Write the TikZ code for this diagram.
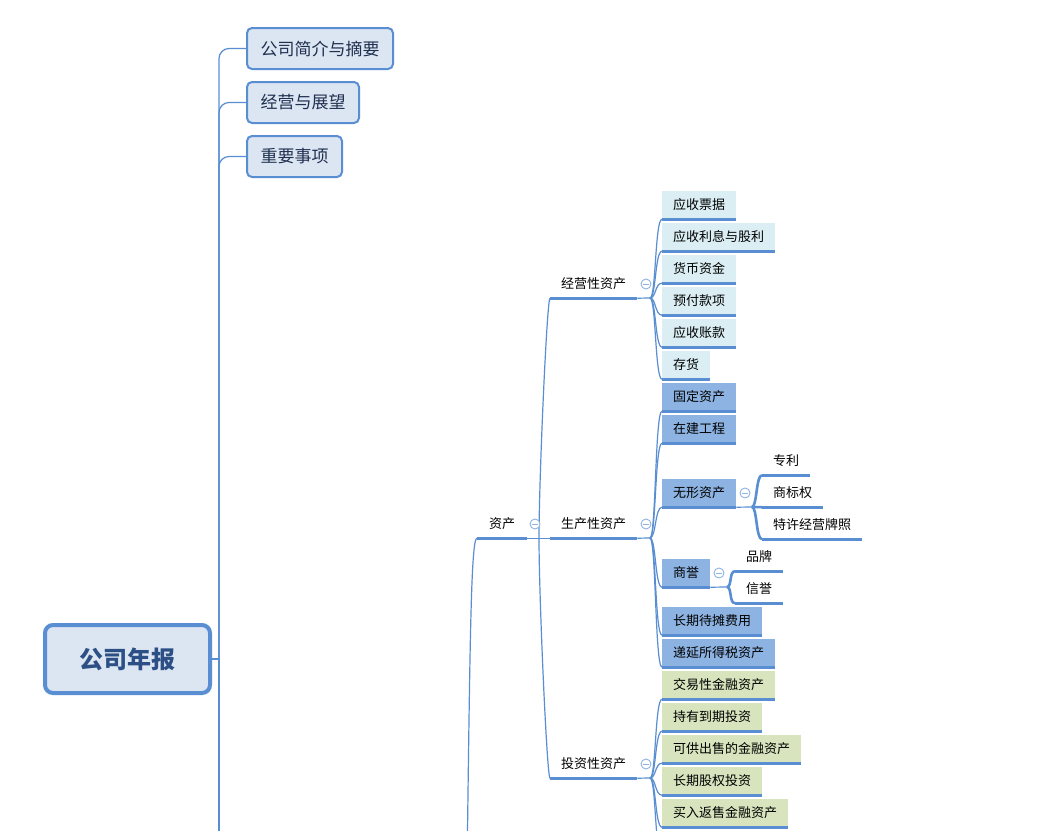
\documentclass[tikz,border=0pt]{standalone}
\usepackage{fontspec}
\newfontfamily\cjk{Noto Sans CJK SC}
\definecolor{lc}{HTML}{5A8ED3}
\definecolor{togc}{HTML}{8FB3E3}
\definecolor{topfill}{HTML}{DCE6F2}
\definecolor{aquafill}{HTML}{DAEEF3}
\definecolor{bluefill}{HTML}{8DB3E2}
\definecolor{greenfill}{HTML}{D7E4BD}
\definecolor{roott}{HTML}{2C5085}
\definecolor{topt}{HTML}{1F2F4F}
\tikzset{
  lnk/.style={draw=lc, line width=1.2pt},
  thk/.style={draw=lc, line width=2.6pt},
  topbox/.style={draw=lc, line width=2pt, fill=topfill, rounded corners=5pt,
    font=\cjk\fontsize{17}{17}\selectfont, text=topt, inner xsep=13.5pt,
    inner ysep=0pt, minimum height=41pt, anchor=west},
  rootbox/.style={draw=lc, line width=4pt, fill=topfill, rounded corners=8pt,
    minimum width=165pt, minimum height=68pt,
    font=\cjk\bfseries\fontsize{24}{24}\selectfont, text=roott},
  ul/.style={font=\cjk\fontsize{13}{13}\selectfont, inner xsep=11pt,
    inner ysep=0pt, minimum height=28pt, anchor=west, text=black},
  fa/.style={ul, fill=aquafill},
  fb/.style={ul, fill=bluefill},
  fc/.style={ul, fill=greenfill},
  tog/.style={circle, draw=togc, line width=0.9pt, fill=white, minimum size=10pt,
    inner sep=0pt, path picture={\draw[togc, line width=0.9pt]
      ([xshift=-2.6pt]path picture bounding box.center) --
      ([xshift=2.6pt]path picture bounding box.center);}}
}
\begin{document}
\begin{tikzpicture}[x=1pt,y=-1pt]
\useasboundingbox (0,0) rectangle (1049,830);
\clip (0,0) rectangle (1049,830);
\fill[white] (0,0) rectangle (1049,830);

% root and top boxes
\node[rootbox] (root) at (127.5,659) {公司年报};
\node[topbox] (t1) at (246,48.5) {公司简介与摘要};
\node[topbox] (t2) at (246,102.5) {经营与展望};
\node[topbox] (t3) at (246,156.5) {重要事项};
\coordinate (tr) at (219,659);
\coordinate (trb) at (219,850);

% level nodes
\node[ul, inner xsep=12pt] (zc) at (477,524) {资产};
\node[ul] (jy) at (550,284) {经营性资产};
\node[ul] (sc) at (550,524) {生产性资产};
\node[ul] (tz) at (550,764) {投资性资产};
\coordinate (zin) at (467,870);
\coordinate (zco) at (539,538);
\coordinate (jyo) at (650,298);
\coordinate (sco) at (650,538);
\coordinate (tzo) at (650,778);

% operating assets
\node[fa] (a1) at (662,205) {应收票据};
\node[fa] (a2) at (662,237) {应收利息与股利};
\node[fa] (a3) at (662,269) {货币资金};
\node[fa] (a4) at (662,301) {预付款项};
\node[fa] (a5) at (662,333) {应收账款};
\node[fa] (a6) at (662,365) {存货};

% production assets
\node[fb] (b1) at (662,397) {固定资产};
\node[fb] (b2) at (662,429) {在建工程};
\node[fb] (b3) at (662,493) {无形资产};
\node[fb] (b4) at (662,573) {商誉};
\node[fb] (b5) at (662,621) {长期待摊费用};
\node[fb] (b6) at (662,653) {递延所得税资产};
\coordinate (b3o) at (752,507);
\coordinate (b4o) at (727,587);

\node[ul] (d1) at (762,461) {专利};
\node[ul] (d2) at (762,493) {商标权};
\node[ul] (d3) at (762,525) {特许经营牌照};
\node[ul] (e1) at (735,557) {品牌};
\node[ul] (e2) at (735,589) {信誉};

% investment assets
\node[fc] (c1) at (662,685) {交易性金融资产};
\node[fc] (c2) at (662,717) {持有到期投资};
\node[fc] (c3) at (662,749) {可供出售的金融资产};
\node[fc] (c4) at (662,781) {长期股权投资};
\node[fc] (c5) at (662,813) {买入返售金融资产};
\coordinate (c6) at (662,859);

% underlines
\foreach \n in {zc,jy,sc,tz,a1,a2,a3,a4,a5,a6,b1,b2,b3,b4,b5,b6,c1,c2,c3,c4,c5,d1,d2,d3,e1,e2}
  \draw[draw=lc, line width=3pt] (\n.south west) -- (\n.south east);

% top-level connectors
\draw[lnk] (root.east) -- (tr) -- (trb);
\foreach \n in {t1,t2,t3}
  \draw[lnk, rounded corners=10pt] (tr) |- (\n.west);

% assets connectors
\draw[lnk] (zin) .. controls (470,640) and (471,538) .. (zc.south west);
\draw[lnk] (zc.south east) -- (sc.south west);
\draw[lnk] (zco) .. controls +(0,-60) and +(-3,0) .. (jy.south west);
\draw[lnk] (zco) .. controls +(0,60) and +(-3,0) .. (tz.south west);
\draw[lnk] (jy.south east) -- (jyo);
\draw[lnk] (sc.south east) -- (sco);
\draw[lnk] (tz.south east) -- (tzo);

\foreach \n in {a1,a2,a3,a4,a5,a6}
  \draw[lnk] (jyo) .. controls +(6,0) and +(-7,0) .. (\n.south west);
\foreach \n in {b1,b2,b3,b4,b5,b6}
  \draw[lnk] (sco) .. controls +(6,0) and +(-7,0) .. (\n.south west);
\foreach \n in {c1,c2,c3,c4,c5,c6}
  \draw[lnk] (tzo) .. controls +(6,0) and +(-7,0) .. (\n.south west);

\draw[lnk] (b3.south east) -- (b3o);
\draw[lnk] (b4.south east) -- (b4o);
\foreach \n in {d1,d2,d3}
  \draw[thk] (b3o) .. controls +(5,0) and +(-6,0) .. (\n.south west);
\foreach \n in {e1,e2}
  \draw[thk] (b4o) .. controls +(5,0) and +(-6,0) .. (\n.south west);

% collapse toggles
\node[tog] (g1) at (535,524) {};
\node[tog] (g2) at (646,524) {};
\node[tog] (g3) at (646,284) {};
\node[tog] (g4) at (646,764) {};
\node[tog] (g5) at (745,493) {};
\node[tog] (g6) at (719,573) {};
\end{tikzpicture}
\end{document}
